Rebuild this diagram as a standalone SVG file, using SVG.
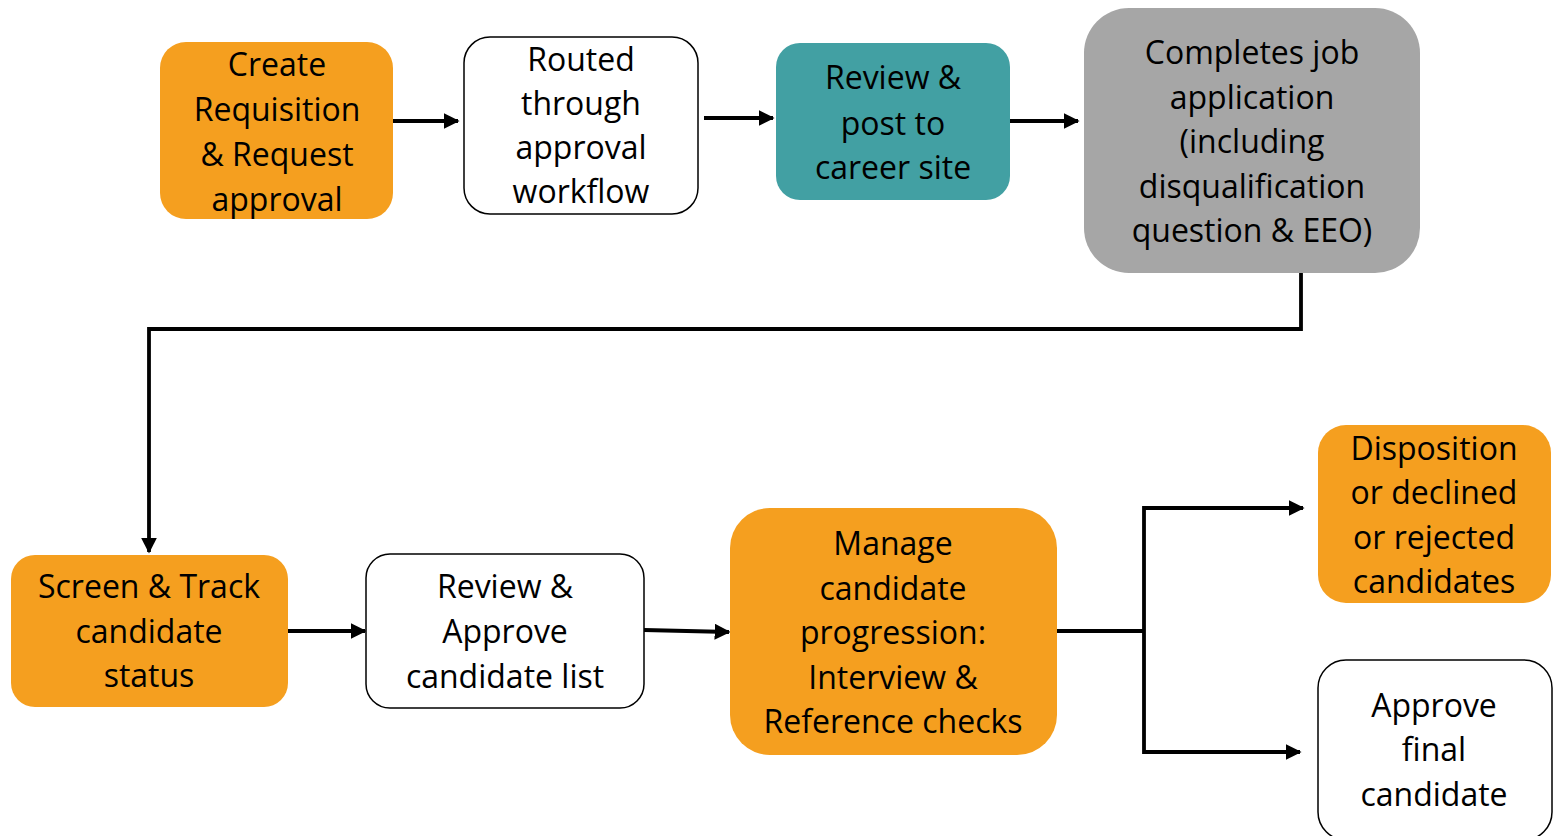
<svg xmlns="http://www.w3.org/2000/svg" width="1556" height="836" viewBox="0 0 1556 836">
<defs>
<style>
.or{fill:#F59F1F}
.wh{fill:#FFFFFF;stroke:#000;stroke-width:1.5}
.te{fill:#42A0A3}
.gr{fill:#A6A6A6}
text{font-family:"Open Sans","Noto Sans","Liberation Sans",sans-serif;font-size:32px;fill:#000;text-anchor:middle}
.c{fill:none;stroke:#000;stroke-width:3.8}
</style>
<marker id="ah" viewBox="0 0 10 10" refX="9" refY="5" markerWidth="4.2" markerHeight="4.2" markerUnits="strokeWidth" orient="auto">
<path d="M0,0 L10,5 L0,10 Z" fill="#000"/>
</marker>
</defs>
<rect width="1556" height="836" fill="#fff"/>
<g id="connectors">
<path class="c" d="M393,121 H458" marker-end="url(#ah)"/>
<path class="c" d="M704,118 H773" marker-end="url(#ah)"/>
<path class="c" d="M1010,121 H1078" marker-end="url(#ah)"/>
<path class="c" d="M1301,273 V329 H149 V552" marker-end="url(#ah)"/>
<path class="c" d="M288,631 H365" marker-end="url(#ah)"/>
<path class="c" d="M644,630 L729,632" marker-end="url(#ah)"/>
<path class="c" d="M1057,631 H1144"/>
<path class="c" d="M1303,508 H1144 V752 H1300" marker-end="url(#ah)"/>
<path class="c" d="M1144,508 H1303" marker-end="url(#ah)"/>
</g>
<g id="n1">
<rect class="or" x="160" y="42" width="233" height="177" rx="26"/>
<text x="277" y="76">Create</text>
<text x="277" y="121">Requisition</text>
<text x="277" y="166">&amp; Request</text>
<text x="277" y="211">approval</text>
</g>
<g id="n2">
<rect class="wh" x="464" y="37" width="234" height="177" rx="26"/>
<text x="581" y="71">Routed</text>
<text x="581" y="115">through</text>
<text x="581" y="159">approval</text>
<text x="581" y="203">workflow</text>
</g>
<g id="n3">
<rect class="te" x="776" y="43" width="234" height="157" rx="24"/>
<text x="893" y="89">Review &amp;</text>
<text x="893" y="135">post to</text>
<text x="893" y="179">career site</text>
</g>
<g id="n4">
<rect class="gr" x="1084" y="8" width="336" height="265" rx="45"/>
<text x="1252" y="64">Completes job</text>
<text x="1252" y="109">application</text>
<text x="1252" y="153">(including</text>
<text x="1252" y="198">disqualification</text>
<text x="1252" y="242">question &amp; EEO)</text>
</g>
<g id="n5">
<rect class="or" x="11" y="555" width="277" height="152" rx="24"/>
<text x="149" y="598">Screen &amp; Track</text>
<text x="149" y="643">candidate</text>
<text x="149" y="687">status</text>
</g>
<g id="n6">
<rect class="wh" x="366" y="554" width="278" height="154" rx="24"/>
<text x="505" y="598">Review &amp;</text>
<text x="505" y="643">Approve</text>
<text x="505" y="688">candidate list</text>
</g>
<g id="n7">
<rect class="or" x="730" y="508" width="327" height="247" rx="40"/>
<text x="893" y="555">Manage</text>
<text x="893" y="600">candidate</text>
<text x="893" y="644">progression:</text>
<text x="893" y="689">Interview &amp;</text>
<text x="893" y="733">Reference checks</text>
</g>
<g id="n8">
<rect class="or" x="1318" y="425" width="233" height="178" rx="28"/>
<text x="1434" y="460">Disposition</text>
<text x="1434" y="504">or declined</text>
<text x="1434" y="549">or rejected</text>
<text x="1434" y="593">candidates</text>
</g>
<g id="n9">
<rect class="wh" x="1318" y="660" width="234" height="180" rx="28"/>
<text x="1434" y="717">Approve</text>
<text x="1434" y="761">final</text>
<text x="1434" y="806">candidate</text>
</g>
</svg>
